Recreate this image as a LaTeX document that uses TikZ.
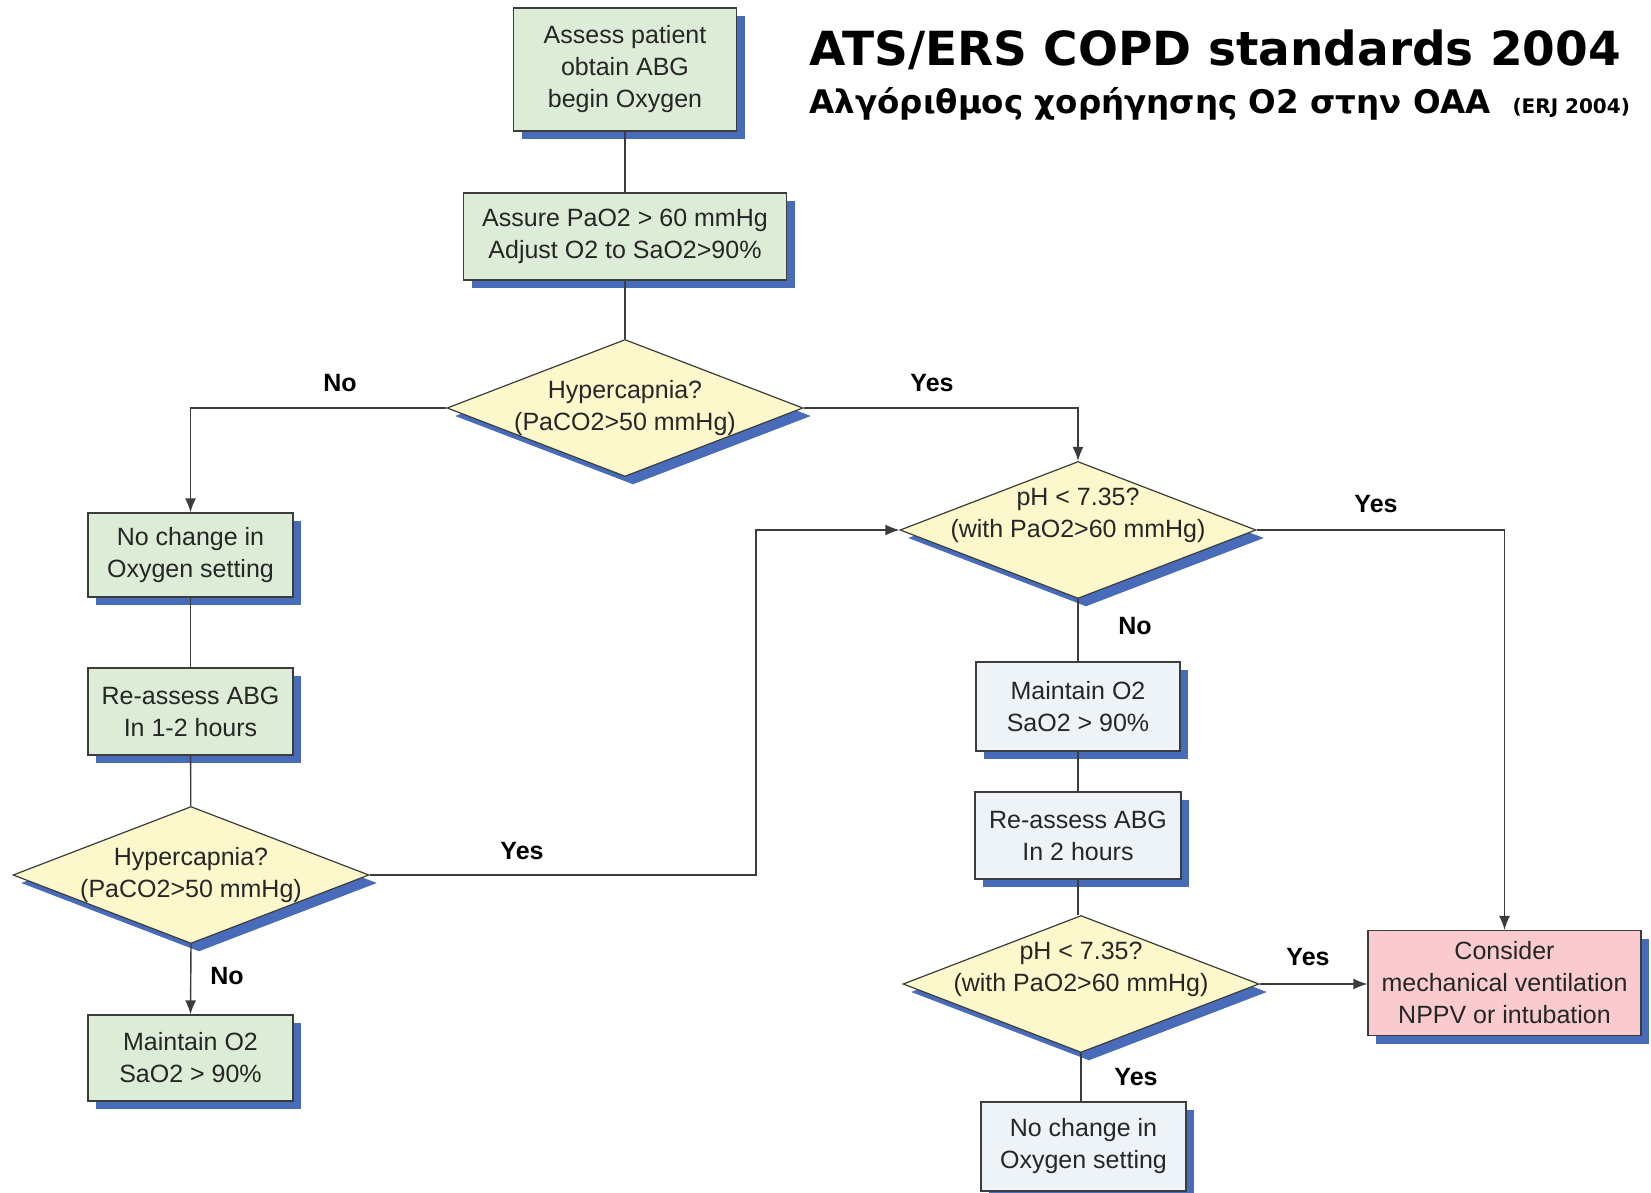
\documentclass[tikz,border=0pt]{standalone}
\usepackage{fontspec}
\setmainfont{Liberation Sans}
\newfontfamily\titlefont{DejaVu Sans}
\usetikzlibrary{arrows.meta,shapes.geometric,shadows}
\definecolor{linegray}{RGB}{60,60,60}
\definecolor{shadowblue}{RGB}{72,108,186}
\definecolor{fillgreen}{RGB}{221,236,214}
\definecolor{fillyellow}{RGB}{252,248,204}
\definecolor{fillblue}{RGB}{238,243,248}
\definecolor{fillpink}{RGB}{249,203,207}
\tikzset{>={Latex[length=14pt,width=11pt]}}
\tikzset{
  bluedrop/.style={drop shadow={shadow xshift=8pt,shadow yshift=-8pt,fill=shadowblue,opacity=1}},
  txt/.style={align=center,text=black!85,font=\fontsize{25}{32}\selectfont},
  box/.style={rectangle,draw=linegray,line width=1.2pt,inner sep=0pt,txt,bluedrop},
  greenbox/.style={box,fill=fillgreen},
  bluebox/.style={box,fill=fillblue},
  pinkbox/.style={box,fill=fillpink},
  decision/.style={diamond,draw=linegray,line width=1.2pt,fill=fillyellow,inner sep=0pt,
    minimum width=356pt,minimum height=137pt,bluedrop},
  yesno/.style={font=\bfseries\fontsize{25}{30}\selectfont},
  link/.style={draw=linegray,line width=1.4pt}
}

\begin{document}
\begin{tikzpicture}[x=1pt,y=-1pt]
  \useasboundingbox (0,0) rectangle (1651,1193);
  % Title
  \node[anchor=west,font=\titlefont\fontsize{47}{56}\selectfont\bfseries] (title) at (806,50) {ATS/ERS COPD standards 2004};
  \node[anchor=west,font=\titlefont\fontsize{32.5}{38}\selectfont\bfseries] (subtitle) at (806,104) {Αλγόριθμος χορήγησης Ο2 στην ΟΑΑ};
  \node[anchor=west,font=\titlefont\fontsize{20}{22}\selectfont\bfseries] (erj) at (1509,108) {(ERJ 2004)};
  % Middle column
  \node[greenbox,minimum width=223pt,minimum height=123pt] (assess) at (625,69.5) {Assess patient\\obtain ABG\\begin Oxygen};
  \node[greenbox,minimum width=323pt,minimum height=87pt] (assure) at (625,236.5) {Assure PaO2 > 60 mmHg\\Adjust O2 to SaO2>90\%};
  \node[decision,label={[txt]center:Hypercapnia?\\(PaCO2>50 mmHg)}] (hyper) at (625,408) {};
  % Left column
  \node[greenbox,minimum width=205pt,minimum height=84pt] (nochangeL) at (190.5,555) {No change in\\Oxygen setting};
  \node[greenbox,minimum width=205pt,minimum height=87pt] (reassessL) at (190.5,711.5) {Re-assess ABG\\In 1-2 hours};
  \node[decision,label={[txt]center:Hypercapnia?\\(PaCO2>50 mmHg)}] (hyperL) at (191,875) {};
  \node[greenbox,minimum width=205pt,minimum height=86pt] (maintainL) at (190.5,1058) {Maintain O2\\SaO2 > 90\%};
  % Right column
  \node[decision,label={[txt,yshift=15pt]center:pH < 7.35?\\(with PaO2>60 mmHg)}] (phA) at (1078,530) {};
  \node[bluebox,minimum width=204pt,minimum height=89pt] (maintainR) at (1078,706.5) {Maintain O2\\SaO2 > 90\%};
  \node[bluebox,minimum width=206pt,minimum height=87pt] (reassessR) at (1078,835.5) {Re-assess ABG\\In 2 hours};
  \node[decision,label={[txt,yshift=15pt]center:pH < 7.35?\\(with PaO2>60 mmHg)}] (phB) at (1081,984) {};
  \node[bluebox,minimum width=205pt,minimum height=89pt] (nochangeR) at (1083.5,1146.5) {No change in\\Oxygen setting};
  \node[pinkbox,minimum width=273pt,minimum height=105pt] (ventilate) at (1504.5,983) {Consider\\mechanical ventilation\\NPPV or intubation};
  \coordinate (jog) at (756,530);
  % Lines
  \draw[link] (assess) -- (assure);
  \draw[link] (assure) -- (hyper);
  \draw[link,->] (hyper.west) -| (nochangeL.north);
  \draw[link,->] (hyper.east) -| (phA.north);
  \draw[link] (nochangeL) -- (reassessL);
  \draw[link] (reassessL) -- (hyperL);
  \draw[link,->] (hyperL.south) -- (maintainL.north);
  \draw[link,->] (hyperL.east) -| (jog) -- (phA.west);
  \draw[link,->] (phA.east) -| (ventilate.north);
  \draw[link] (phA.south) -- (phA.south |- maintainR.north);
  \draw[link] (maintainR.south) -- (maintainR.south |- reassessR.north);
  \draw[link] (reassessR.south) -- (reassessR.south |- phB.north);
  \draw[link,->] (phB.east) -- (phB.east -| ventilate.west);
  \draw[link] (phB.south) -- (phB.south |- nochangeR.north);
  % Labels
  \node[yesno] (noA) at (340,383) {No};
  \node[yesno] (yesA) at (932,383) {Yes};
  \node[yesno] (yesB) at (522,851) {Yes};
  \node[yesno] (noB) at (227,976) {No};
  \node[yesno] (yesC) at (1376,504) {Yes};
  \node[yesno] (noC) at (1135,626) {No};
  \node[yesno] (yesD) at (1308,957) {Yes};
  \node[yesno] (yesE) at (1136,1077) {Yes};
\end{tikzpicture}
\end{document}
